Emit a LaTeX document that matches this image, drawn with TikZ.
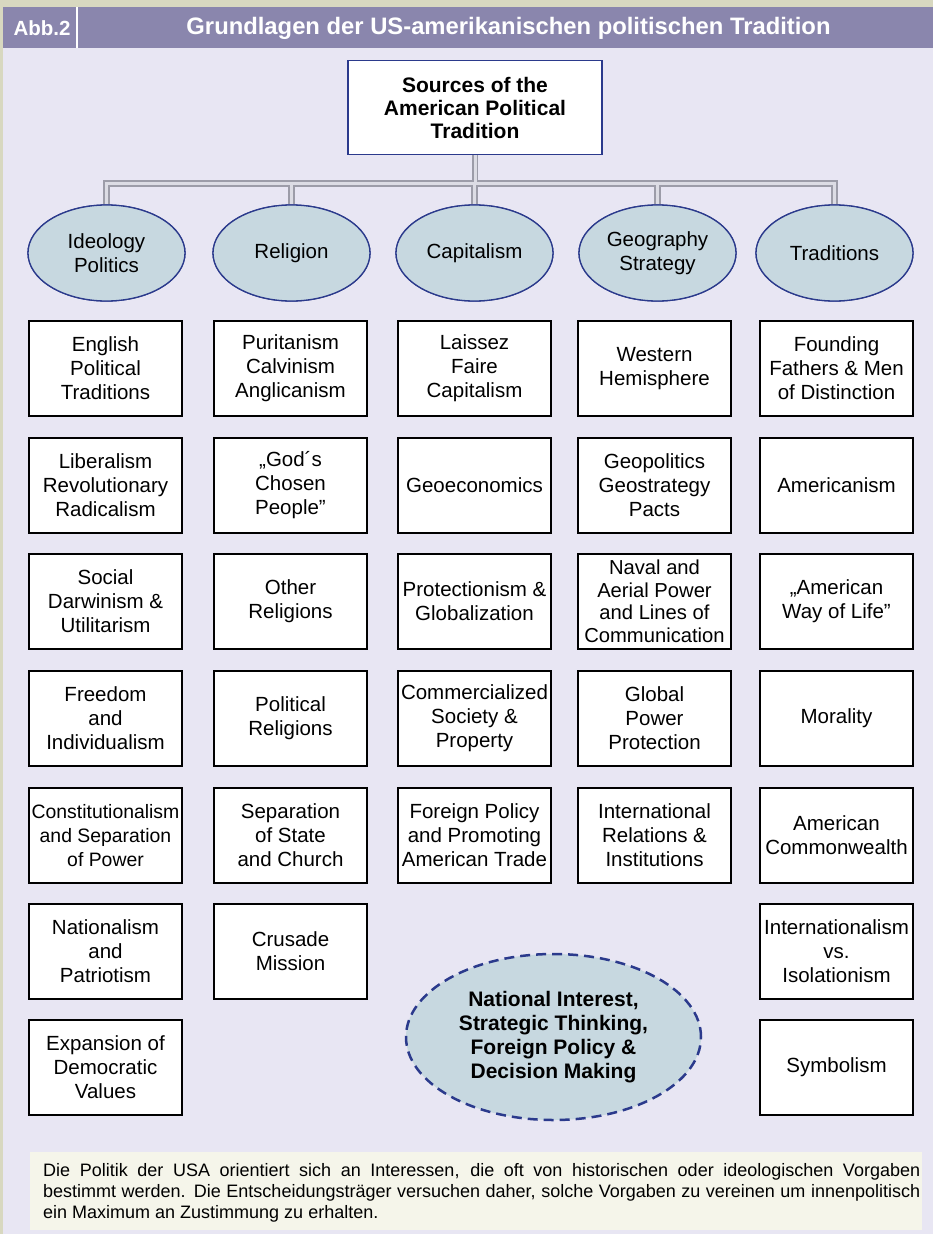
\documentclass[tikz,border=0pt]{standalone}
\usepackage{fontspec}
\setmainfont{Liberation Sans}
\usetikzlibrary{shapes.geometric}
\definecolor{olivebg}{HTML}{D8D8C0}
\definecolor{purp}{HTML}{8A86AD}
\definecolor{lav}{HTML}{E8E6F3}
\definecolor{elfill}{HTML}{C7D8E0}
\definecolor{navy}{HTML}{2B3A8C}
\definecolor{txtbox}{HTML}{F5F5EA}
\definecolor{tubeout}{HTML}{9C9CA8}
\definecolor{tubein}{HTML}{DCDCE4}
\begin{document}
\begin{tikzpicture}[x=1pt,y=-1pt,
  cbox/.style={draw=black, line width=1.1pt, fill=white, minimum width=153, minimum height=95,
    inner sep=1pt, align=center, font=\fontsize{20.5}{24}\selectfont},
  topic/.style={ellipse, draw=navy, line width=1.3pt, fill=elfill, minimum width=157, minimum height=96,
    inner sep=0pt, align=center, font=\fontsize{20.5}{24}\selectfont},
  topbox/.style={draw=navy, line width=1.4pt, fill=white, minimum width=254, minimum height=94, align=center,
    font=\fontsize{21}{23}\selectfont\bfseries},
  tubeA/.style={draw=tubeout, line width=6.5pt},
  tubeB/.style={draw=tubein, line width=3pt}]
\useasboundingbox (0,0) rectangle (933,1234);
\fill[olivebg] (0,0) rectangle (933,1234);
\fill[lav] (3,48) rectangle (933,1234);
\fill[purp] (3,7) rectangle (933,48);
\draw[white, line width=1.5pt] (77,7) -- (77,48);
\node[text=white, font=\fontsize{20.5}{24}\selectfont\bfseries] (abb) at (42,28) {Abb.2};
\node[text=white, font=\fontsize{23.8}{26}\selectfont\bfseries] (title) at (508.5,28.5) {Grundlagen der US-amerikanischen politischen Tradition};

% top node (placed first to get anchors)
\node[topbox] (top) at (475,107.5) {Sources of the\\American Political\\Tradition};

% topic ellipses
\node[topic] (e1) at (106.5,253) {Ideology\\Politics};
\node[topic] (e2) at (291.5,253) {Religion};
\node[topic] (e3) at (474.5,253) {Capitalism};
\node[topic] (e4) at (657.5,253) {Geography\\Strategy};
\node[topic] (e5) at (834.5,253) {Traditions};

% connectors
\path (top.south) ++(0,28.5) coordinate (jn);
\foreach \st in {tubeA,tubeB}{
  \draw[\st] (top.south) -- (jn);
  \foreach \e in {e1,e2,e3,e4,e5}{
    \draw[\st] (jn) -| (\e.north);
  }
}
% redraw ellipses and top box over tube ends
\node[topic] at (e1) {Ideology\\Politics};
\node[topic] at (e2) {Religion};
\node[topic] at (e3) {Capitalism};
\node[topic] at (e4) {Geography\\Strategy};
\node[topic] at (e5) {Traditions};
\node[topbox] at (top) {Sources of the\\American Political\\Tradition};

% column 1
\node[cbox] (a1) at (105.5,368.5) {English\\Political\\Traditions};
\node[cbox] (a2) at (105.5,485.5) {Liberalism\\Revolutionary\\Radicalism};
\node[cbox] (a3) at (105.5,601.5) {Social\\Darwinism \&\\Utilitarism};
\node[cbox] (a4) at (105.5,718.5) {Freedom\\and\\Individualism};
\node[cbox, font=\fontsize{19.4}{24}\selectfont] (a5) at (105.5,835.5) {Constitutionalism\\and Separation\\of Power};
\node[cbox] (a6) at (105.5,951.5) {Nationalism\\and\\Patriotism};
\node[cbox] (a7) at (105.5,1067.5) {Expansion of\\Democratic\\Values};
% column 2
\node[cbox] (b1) at (290.5,368.5) {Puritanism\\Calvinism\\Anglicanism};
\node[cbox] (b2) at (290.5,485.5) {„God´s\\Chosen\\People”};
\node[cbox] (b3) at (290.5,601.5) {Other\\Religions};
\node[cbox] (b4) at (290.5,718.5) {Political\\Religions};
\node[cbox] (b5) at (290.5,835.5) {Separation\\of State\\and Church};
\node[cbox] (b6) at (290.5,951.5) {Crusade\\Mission};
% column 3
\node[cbox] (c1) at (474.5,368.5) {Laissez\\Faire\\Capitalism};
\node[cbox] (c2) at (474.5,485.5) {Geoeconomics};
\node[cbox] (c3) at (474.5,601.5) {Protectionism \&\\Globalization};
\node[cbox] (c4) at (474.5,718.5) {Commercialized\\Society \&\\Property};
\node[cbox] (c5) at (474.5,835.5) {Foreign Policy\\and Promoting\\American Trade};
% column 4
\node[cbox] (d1) at (654.5,368.5) {Western\\Hemisphere};
\node[cbox] (d2) at (654.5,485.5) {Geopolitics\\Geostrategy\\Pacts};
\node[cbox, font=\fontsize{20.2}{22.5}\selectfont] (d3) at (654.5,601.5) {Naval and\\Aerial Power\\and Lines of\\Communication};
\node[cbox] (d4) at (654.5,718.5) {Global\\Power\\Protection};
\node[cbox] (d5) at (654.5,835.5) {International\\Relations \&\\Institutions};
% column 5
\node[cbox] (f1) at (836.5,368.5) {Founding\\Fathers \& Men\\of Distinction};
\node[cbox] (f2) at (836.5,485.5) {Americanism};
\node[cbox] (f3) at (836.5,601.5) {„American\\Way of Life”};
\node[cbox] (f4) at (836.5,718.5) {Morality};
\node[cbox] (f5) at (836.5,835.5) {American\\Commonwealth};
\node[cbox] (f6) at (836.5,951.5) {Internationalism\\vs.\\Isolationism};
\node[cbox] (f7) at (836.5,1067.5) {Symbolism};

% central dashed ellipse
\node[ellipse, draw=navy, dash pattern=on 10pt off 6pt, line width=2.5pt, fill=elfill,
  minimum width=295, minimum height=166, inner sep=0pt, align=center,
  font=\fontsize{21}{24}\selectfont\bfseries] (ni) at (553.5,1037)
  {National Interest,\\Strategic Thinking,\\Foreign Policy \&\\Decision Making};

% bottom text box
\fill[txtbox] (30,1152) rectangle (922,1230);
\node[anchor=north west, text width=877, inner sep=0pt, align=justify,
  font=\fontsize{18}{21}\selectfont] (note) at (43,1163.5)
  {Die Politik der USA orientiert sich an Interessen, die oft von historischen oder ideologischen Vorgaben\linebreak bestimmt werden. Die Entscheidungsträger versuchen daher, solche Vorgaben zu vereinen um innenpolitisch\linebreak ein Maximum an Zustimmung zu erhalten.};
\end{tikzpicture}
\end{document}
